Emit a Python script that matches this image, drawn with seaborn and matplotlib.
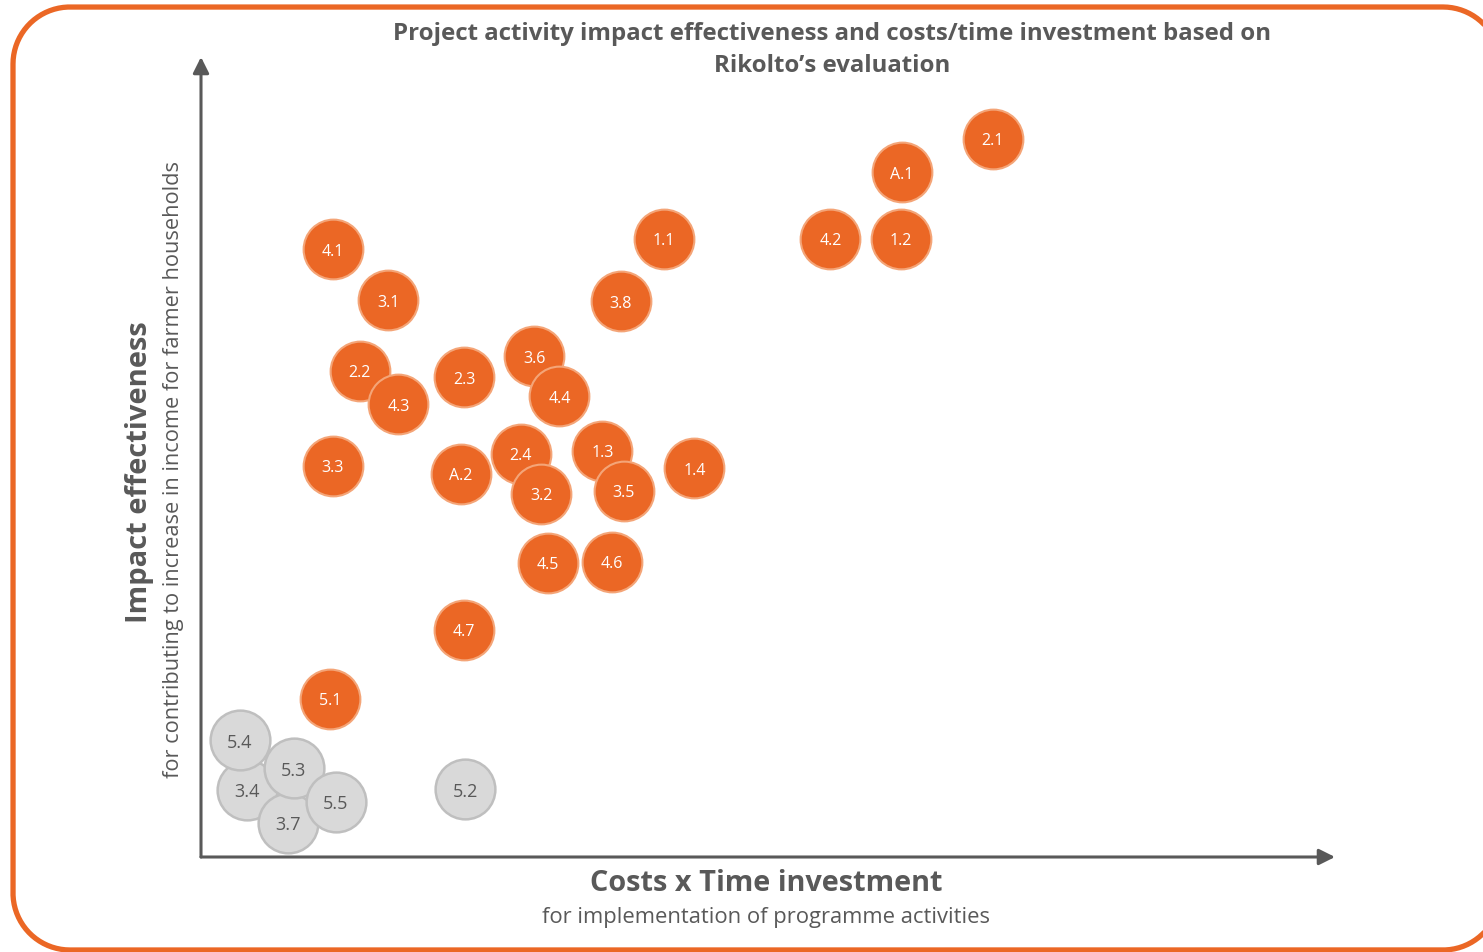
import numpy as np
import pandas as pd
import matplotlib.pyplot as plt
import seaborn as sns

# activity codes with their costs x time score and impact score (0-10 scale)
active_ids = ['2.1', 'A.1', '1.1', '4.2', '1.2', '4.1', '3.1', '3.8', '3.6', '4.4',
              '2.2', '4.3', '2.3', '2.4', '3.2', '1.3', '3.5', '3.3', '1.4', 'A.2',
              '4.5', '4.6', '4.7', '5.1']
active_cost = [6.98, 6.18, 4.08, 5.55, 6.17, 1.16, 1.65, 3.70, 2.94, 3.16,
               1.40, 1.74, 2.32, 2.82, 3.00, 3.54, 3.73, 1.16, 4.35, 2.29,
               3.06, 3.62, 2.32, 1.14]
active_impact = [8.98, 8.56, 7.73, 7.73, 7.73, 7.60, 6.96, 6.95, 6.26, 5.76,
                 6.08, 5.66, 6.00, 5.04, 4.54, 5.08, 4.58, 4.89, 4.86, 4.79,
                 3.68, 3.69, 2.84, 1.98]

low_ids = ['3.4', '5.4', '3.7', '5.3', '5.5', '5.2']
low_cost = [0.41, 0.34, 0.77, 0.82, 1.19, 2.33]
low_impact = [0.84, 1.46, 0.43, 1.11, 0.69, 0.85]

ORANGE = '#EB6725'
ORANGE_EDGE = '#F4A578'
GREY = '#D9D9D9'
GREY_EDGE = '#BFBFBF'
TEXT = '#595959'

active = pd.DataFrame({'id': active_ids, 'cost': active_cost, 'impact': active_impact})
low = pd.DataFrame({'id': low_ids, 'cost': low_cost, 'impact': low_impact})

sns.set_theme(style='white')
plt.rcParams['font.family'] = ['Open Sans', 'DejaVu Sans']

W, H = 1483, 953
fig = plt.figure(figsize=(W / 100, H / 100), dpi=100)

# background layer in pixel coords (y up) for the frame and labels
bg = fig.add_axes([0, 0, 1, 1])
bg.set_xlim(0, W)
bg.set_ylim(0, H)
bg.axis('off')


def rounded_rect(x0, y0, x1, y1, r, n=40):
    # corner arcs as plain line segments
    pts = []
    corners = [(x1 - r, y1 - r, 0), (x0 + r, y1 - r, 90),
               (x0 + r, y0 + r, 180), (x1 - r, y0 + r, 270)]
    for cx, cy, a0 in corners:
        a = np.radians(np.linspace(a0, a0 + 90, n))
        pts.append(np.column_stack([cx + r * np.cos(a), cy + r * np.sin(a)]))
    pts = np.vstack(pts + [pts[0][:1]])
    return pts[:, 0], pts[:, 1]


fx, fy = rounded_rect(13, 2, 1500, 945, 57)
bg.plot(fx, fy, color=ORANGE, lw=3.8, clip_on=False, solid_joinstyle='round')

bg.text(832, H - 34, 'Project activity impact effectiveness and costs/time investment based on',
        ha='center', va='center', fontsize=17.3, fontweight='bold', color=TEXT)
bg.text(832, H - 66, 'Rikolto\u2019s evaluation',
        ha='center', va='center', fontsize=17.3, fontweight='bold', color=TEXT)
bg.text(766, H - 884, 'Costs x Time investment', ha='center', va='center',
        fontsize=20.8, fontweight='bold', color=TEXT)
bg.text(766, H - 918, 'for implementation of programme activities', ha='center', va='center',
        fontsize=15.8, color=TEXT)
bg.text(139, H - 472, 'Impact effectiveness', ha='center', va='center', rotation=90,
        fontsize=21, fontweight='bold', color=TEXT)
bg.text(174, H - 469, 'for contributing to increase in income for farmer households',
        ha='center', va='center', rotation=90, fontsize=15.7, color=TEXT)

# main plot area: x axis from px 201 to 1335, y axis from px 858 up to 58
ax = fig.add_axes([201 / W, (H - 858) / H, 1134 / W, 800 / H])
ax.set_facecolor('none')
ax.set_xlim(0, 10)
ax.set_ylim(0, 10)

sns.scatterplot(data=low, x='cost', y='impact', s=1850, color=GREY,
                edgecolor=GREY_EDGE, linewidth=1.8, ax=ax, clip_on=False, zorder=3)
sns.scatterplot(data=active, x='cost', y='impact', s=1850, color=ORANGE,
                edgecolor=ORANGE_EDGE, linewidth=1.5, ax=ax, clip_on=False, zorder=3)

for _, r in low.iterrows():
    ax.annotate(r['id'], (r['cost'], r['impact']), xytext=(0, -1.2),
                textcoords='offset points', ha='center', va='center',
                fontsize=13, color=TEXT, zorder=5)
for _, r in active.iterrows():
    ax.annotate(r['id'], (r['cost'], r['impact']), xytext=(0, -1.2),
                textcoords='offset points', ha='center', va='center',
                fontsize=11.5, color='white', zorder=5)

for s in ax.spines.values():
    s.set_visible(False)
ax.set_xticks([])
ax.set_yticks([])
ax.set_xlabel('')
ax.set_ylabel('')

arrow = dict(arrowstyle='-|>', color=TEXT, lw=2.2, mutation_scale=24, shrinkA=0, shrinkB=0)
ax.annotate('', xy=(1, 0), xytext=(0, 0), xycoords='axes fraction',
            textcoords='axes fraction', arrowprops=arrow, zorder=2)
ax.annotate('', xy=(0, 1), xytext=(0, 0), xycoords='axes fraction',
            textcoords='axes fraction', arrowprops=arrow, zorder=2)

fig.savefig('out.png', dpi=100)
plt.close(fig)
